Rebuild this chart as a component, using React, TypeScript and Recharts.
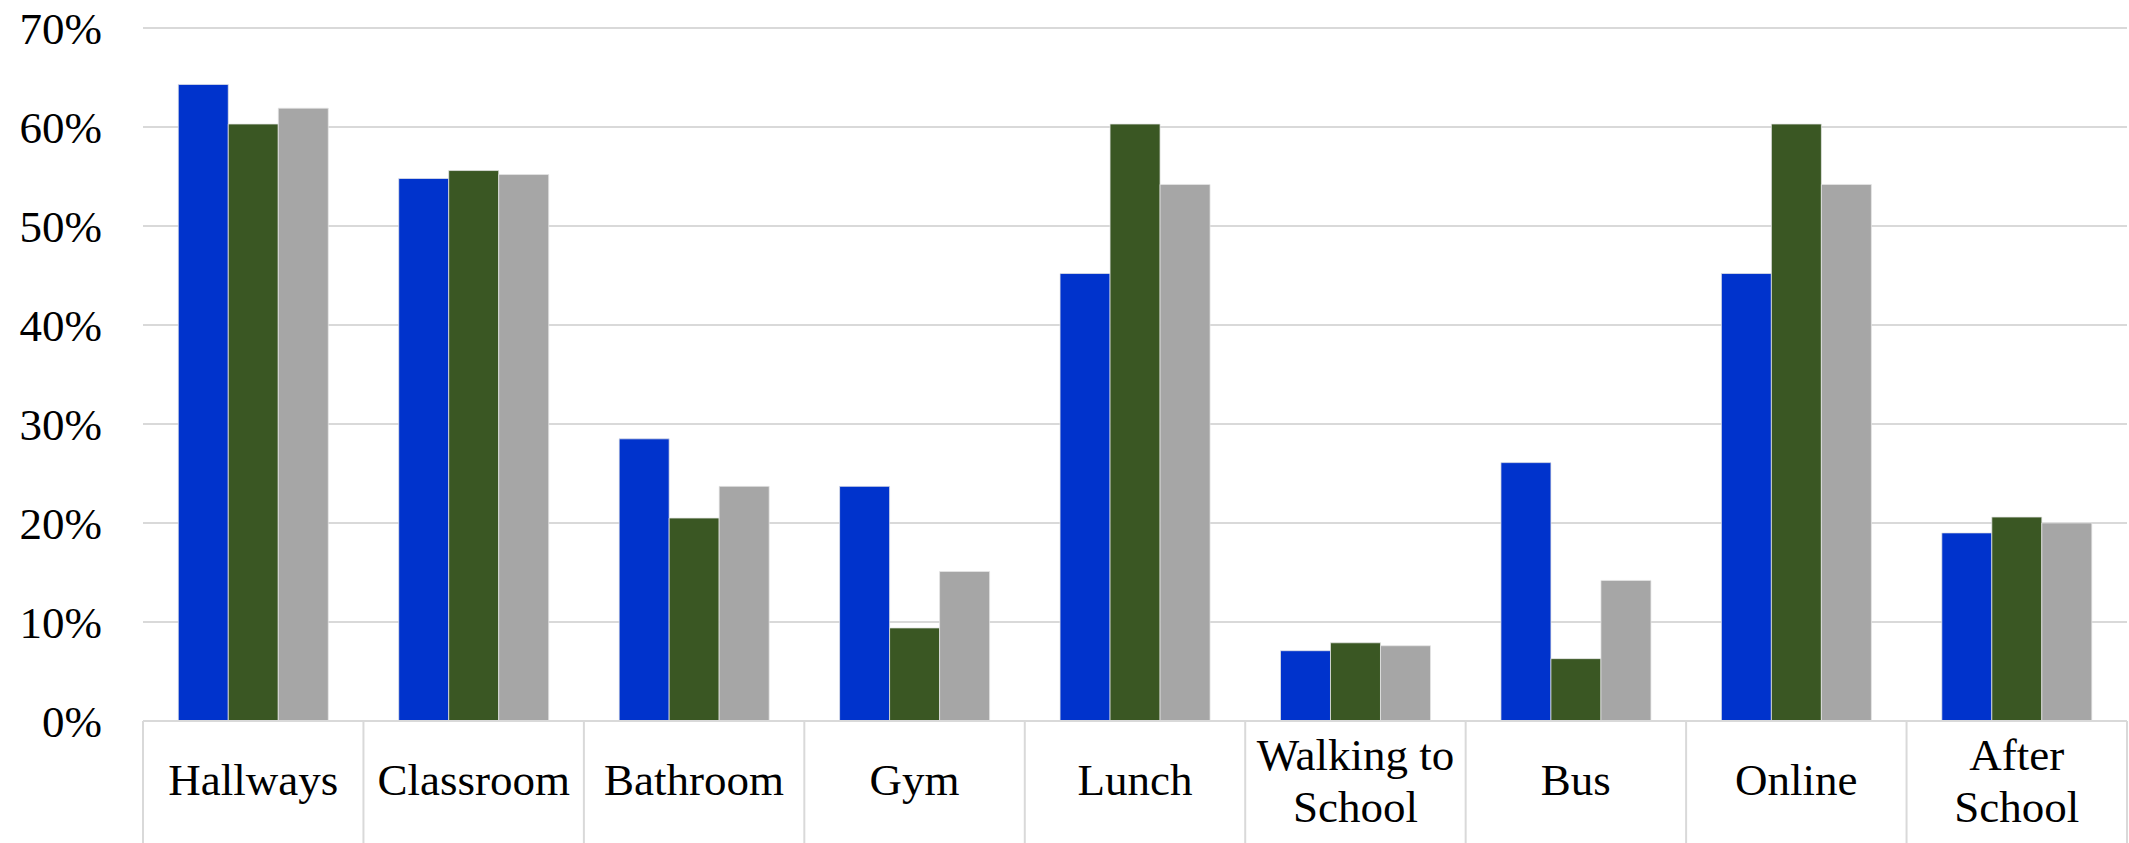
import { BarChart, Bar, XAxis, YAxis, CartesianGrid } from 'recharts'

const categories = [
  'Hallways',
  'Classroom',
  'Bathroom',
  'Gym',
  'Lunch',
  'Walking to School',
  'Bus',
  'Online',
  'After School',
]

// label line breaks as they appear under the axis
const tickLines: string[][] = [
  ['Hallways'],
  ['Classroom'],
  ['Bathroom'],
  ['Gym'],
  ['Lunch'],
  ['Walking to', 'School'],
  ['Bus'],
  ['Online'],
  ['After', 'School'],
]

const series1 = [64.3, 54.8, 28.5, 23.7, 45.2, 7.1, 26.1, 45.2, 19.0]
const series2 = [60.3, 55.6, 20.5, 9.4, 60.3, 7.9, 6.3, 60.3, 20.6]
const series3 = [61.9, 55.2, 23.7, 15.1, 54.2, 7.6, 14.2, 54.2, 20.0]

const yTicks = [0, 10, 20, 30, 40, 50, 60, 70]

const W = 2129
const H = 843
const LEFT = 143
const RIGHT = 2
const TOP = 28
const X_AXIS_H = 122
const BAND = (W - LEFT - RIGHT) / categories.length
const FONT = '"Liberation Serif", "DejaVu Serif", serif'
const GRID = '#d9d9d9'

const data = categories.map((name, i) => ({
  name,
  s1: series1[i],
  s2: series2[i],
  s3: series3[i],
}))

function CategoryTick(props: any) {
  const { x, y, payload } = props
  const idx = payload.index as number
  const lines = tickLines[idx] ?? [String(payload.value)]
  const left = x - BAND / 2
  const right = x + BAND / 2
  return (
    <g>
      <line x1={left} y1={y} x2={left} y2={y + X_AXIS_H} stroke={GRID} strokeWidth={2} />
      {idx === categories.length - 1 && (
        <line x1={right} y1={y} x2={right} y2={y + X_AXIS_H} stroke={GRID} strokeWidth={2} />
      )}
      <text textAnchor="middle" fontFamily={FONT} fontSize={45} fill="#000">
        {lines.length === 1 ? (
          <tspan x={x} y={y + 74}>
            {lines[0]}
          </tspan>
        ) : (
          lines.map((l, k) => (
            <tspan key={k} x={x} y={y + 49 + k * 52}>
              {l}
            </tspan>
          ))
        )}
      </text>
    </g>
  )
}

function PercentTick(props: any) {
  const { y, payload } = props
  return (
    <text x={102} y={y} dy="0.35em" textAnchor="end" fontFamily={FONT} fontSize={45} fill="#000">
      {`${payload.value}%`}
    </text>
  )
}

export default function App() {
  return (
    <div style={{ position: 'absolute', left: 0, top: 0, width: W, height: H, background: '#fff' }}>
      <BarChart
        width={W}
        height={H}
        data={data}
        margin={{ top: TOP, right: RIGHT, left: 0, bottom: 0 }}
        barGap={0}
        barCategoryGap="16%"
      >
        <CartesianGrid vertical={false} stroke={GRID} strokeWidth={2} />
        <XAxis
          dataKey="name"
          interval={0}
          height={X_AXIS_H}
          tickLine={false}
          tickSize={0}
          tickMargin={0}
          axisLine={{ stroke: GRID, strokeWidth: 2 }}
          tick={<CategoryTick />}
        />
        <YAxis
          width={LEFT}
          domain={[0, 70]}
          ticks={yTicks}
          interval={0}
          axisLine={false}
          tickLine={false}
          tick={<PercentTick />}
        />
        <Bar dataKey="s1" name="Series 1" fill="#0033cc" stroke="#e6e6e6" strokeWidth={0.75} isAnimationActive={false} />
        <Bar dataKey="s2" name="Series 2" fill="#3a5723" stroke="#e6e6e6" strokeWidth={0.75} isAnimationActive={false} />
        <Bar dataKey="s3" name="Series 3" fill="#a6a6a6" stroke="#e6e6e6" strokeWidth={0.75} isAnimationActive={false} />
      </BarChart>
    </div>
  )
}
